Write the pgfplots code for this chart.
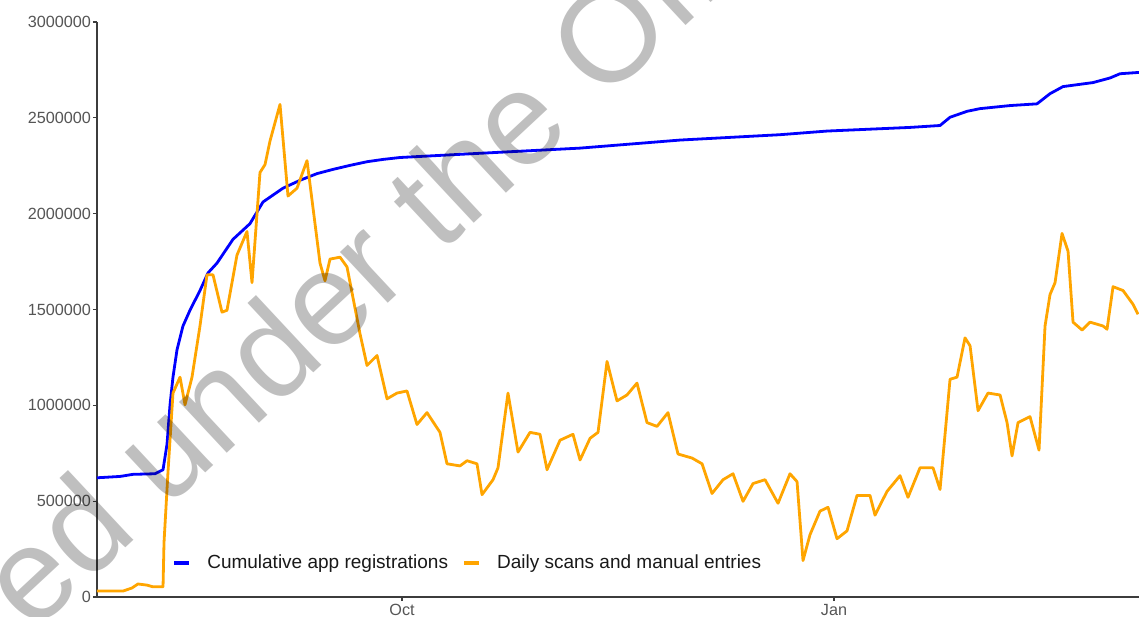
\documentclass[border=0pt]{standalone}
\usepackage{fontspec}
\setmainfont{Liberation Sans}
\usepackage{pgfplots}
\pgfplotsset{compat=1.18}
\definecolor{regblue}{RGB}{0,0,255}
\definecolor{scanorange}{RGB}{255,165,0}
\definecolor{ticklab}{RGB}{85,85,85}
\definecolor{axline}{RGB}{60,60,60}
\begin{document}
\begin{tikzpicture}
\begin{axis}[
  name=ax,
  at={(0pt,0pt)}, anchor=south west,
  scale only axis,
  width=521pt, height=287.5pt,
  xmin=-64.95, xmax=156.94,
  ymin=0, ymax=3000000,
  axis lines=left,
  axis line style={-, draw=axline, line width=0.8pt},
  tick align=outside,
  major tick length=2pt,
  tick style={draw=axline, line width=0.6pt},
  scaled y ticks=false,
  scaled x ticks=false,
  xtick={0,92},
  xticklabels={Oct,Jan},
  ytick={0,500000,1000000,1500000,2000000,2500000,3000000},
  yticklabels={0,500000,1000000,1500000,2000000,2500000,3000000},
  ticklabel style={font=\fontsize{8.1}{9}\selectfont, text=ticklab},
  yticklabel style={xshift=2.5pt},
  xticklabel style={yshift=2pt},
  legend columns=2,
  legend style={
    at={(0.0665,0.059)}, anchor=west,
    draw=none, fill=white,
    inner xsep=3pt,
    font=\fontsize{9.5}{11}\selectfont,
    text=black!90,
    /tikz/every odd column/.append style={column sep=6pt},
    /tikz/every even column/.append style={column sep=5.2pt},
  },
  legend image code/.code={\draw[#1, line width=1.8pt] (0pt,0pt) -- (7.5pt,0pt);},
]
\addplot[regblue, line width=1.4pt, line join=round] coordinates {
(-64.95,622000) (-60.05,629000) (-57.28,640000) (-52.60,643000) (-50.89,664000)
(-50.04,797000) (-49.40,1003000) (-48.77,1147000) (-47.91,1290000) (-46.64,1414000)
(-45.15,1496000) (-43.02,1599000) (-41.31,1691000) (-39.40,1742000) (-35.99,1866000)
(-32.37,1948000) (-29.60,2061000) (-25.34,2133000) (-21.72,2174000) (-18.10,2209000)
(-14.69,2231000) (-11.07,2252000) (-7.45,2271000) (-4.05,2283000) (-0.43,2293000)
(16.61,2315000) (37.91,2342000) (59.20,2384000) (80.50,2412000) (90.50,2431000)
(108.18,2450000) (114.57,2460000) (116.70,2503000) (120.32,2534000) (123.09,2548000)
(129.47,2564000) (135.22,2573000) (137.99,2626000) (140.76,2663000) (147.15,2684000)
(150.77,2708000) (152.90,2730000) (156.94,2737000)
};
\addlegendentry{Cumulative app registrations}
\addplot[scanorange, line width=1.4pt, line join=round] coordinates {
(-64.95,31000) (-59.41,31000) (-57.50,47000) (-56.22,68000) (-54.30,62000)
(-53.02,53000) (-50.89,53000) (-50.68,284000) (-49.83,653000) (-48.77,1064000)
(-47.27,1147000) (-46.21,1003000) (-44.72,1147000) (-43.02,1414000) (-41.53,1681000)
(-40.25,1681000) (-38.33,1486000) (-37.27,1496000) (-35.14,1784000) (-33.01,1907000)
(-31.94,1640000) (-30.24,2215000) (-29.17,2256000) (-28.11,2379000) (-25.98,2570000)
(-24.28,2092000) (-22.36,2133000) (-20.23,2277000) (-17.46,1742000) (-16.40,1650000)
(-15.33,1763000) (-13.20,1773000) (-11.71,1722000) (-8.94,1373000) (-7.45,1208000)
(-5.32,1260000) (-3.19,1034000) (-1.06,1064000) (1.06,1075000) (3.19,900000)
(5.32,962000) (8.09,859000) (9.58,695000) (12.35,684000) (13.84,711000)
(15.97,695000) (17.04,534000) (19.38,612000) (20.44,674000) (22.57,1064000)
(24.70,756000) (27.26,859000) (29.39,849000) (30.88,664000) (33.65,818000)
(36.41,849000) (37.91,715000) (40.04,828000) (41.74,859000) (43.66,1229000)
(45.78,1023000) (47.91,1054000) (50.04,1116000) (52.17,910000) (54.30,890000)
(56.64,962000) (58.77,746000) (61.76,725000) (63.89,695000) (66.01,540000)
(68.36,612000) (70.49,643000) (72.62,499000) (74.75,592000) (77.30,612000)
(80.07,489000) (82.62,643000) (84.12,602000) (85.39,190000) (86.88,325000)
(89.01,448000) (90.72,468000) (92.63,304000) (94.76,345000) (96.89,530000)
(99.66,530000) (100.72,427000) (103.28,551000) (106.05,633000) (107.75,520000)
(110.30,674000) (113.08,674000) (114.57,561000) (116.70,1136000) (118.19,1147000)
(119.89,1352000) (120.96,1311000) (122.66,972000) (124.79,1064000) (127.35,1054000)
(128.84,910000) (129.90,736000) (131.18,910000) (133.73,941000) (135.65,766000)
(136.93,1414000) (137.99,1578000) (139.06,1640000) (140.55,1897000) (141.83,1804000)
(142.89,1434000) (144.81,1393000) (146.51,1434000) (149.28,1414000) (150.13,1397000)
(151.41,1619000) (153.54,1599000) (155.67,1527000) (156.73,1475000)
};
\addlegendentry{Daily scans and manual entries}
\end{axis}
% watermark
\node[rotate=43, anchor=base east, inner sep=0pt, opacity=0.25, text=black,
  font=\fontsize{66}{66}\selectfont] at (239.1pt,234.0pt) {Released under the};
\node[rotate=43, anchor=base west, inner sep=0pt, opacity=0.25, text=black,
  font=\fontsize{66}{66}\selectfont] at (252.5pt,246.5pt) {Official Information Act};
\pgfresetboundingbox
\useasboundingbox (-48.5pt,-9.5pt) rectangle (521pt,298.5pt);
\end{tikzpicture}
\end{document}
